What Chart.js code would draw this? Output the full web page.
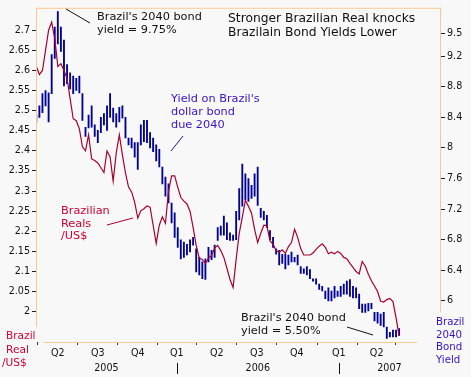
<!DOCTYPE html>
<html>
<head>
<meta charset="utf-8">
<script src="https://cdn.jsdelivr.net/npm/chart.js@4"></script>
<style>
  html, body { margin: 0; padding: 0; background: #f8f8f8; }
  #caixa { width: 471px; height: 377px; }
</style>
</head>
<body>
<div id="caixa"><canvas id="grafico" width="471" height="377"></canvas></div>
<script>
// weekly points, week 0 = mid Feb 2005
var realValues = [
    2.61, 2.59, 2.60, 2.65, 2.70, 2.72, 2.68, 2.61, 2.617, 2.60,
    2.58, 2.53, 2.48, 2.475, 2.455, 2.41, 2.40, 2.44, 2.38, 2.376,
    2.37, 2.358, 2.346, 2.40, 2.385, 2.325, 2.395, 2.44, 2.39, 2.345,
    2.31, 2.298, 2.272, 2.233, 2.251, 2.256, 2.263, 2.26, 2.215, 2.17,
    2.215, 2.236, 2.22, 2.30, 2.338, 2.338, 2.31, 2.284, 2.275, 2.268,
    2.25, 2.21, 2.165, 2.133, 2.13, 2.12, 2.133, 2.14, 2.158, 2.165,
    2.152, 2.135, 2.108, 2.08, 2.06, 2.13, 2.195, 2.235, 2.277, 2.262,
    2.245, 2.205, 2.172, 2.195, 2.215, 2.214, 2.176, 2.168, 2.152, 2.148,
    2.154, 2.145, 2.162, 2.172, 2.205, 2.185, 2.157, 2.141, 2.141, 2.141,
    2.146, 2.155, 2.163, 2.169, 2.16, 2.144, 2.148, 2.144, 2.15, 2.145,
    2.135, 2.132, 2.12, 2.11, 2.10, 2.094, 2.125, 2.113, 2.093, 2.077,
    2.064, 2.05, 2.026, 2.024, 2.03, 2.033, 2.025, 1.985, 1.94
];

var yieldHigh = [
    8.43, 8.55, 8.71, 8.75, 8.72, 9.22, 9.58, 9.78, 9.58, 9.41,
    9.09, 8.98, 8.94, 8.91, 8.94, 8.71, 8.27, 8.43, 8.55, 8.30,
    8.23, 8.40, 8.45, 8.55, 8.71, 8.52, 8.45, 8.53, 8.55, 8.40,
    8.13, 8.13, 8.07, 8.07, 8.30, 8.36, 8.36, 8.20, 8.13, 8.04,
    7.98, 7.75, 7.62, 7.53, 7.28, 7.15, 6.96, 6.80, 6.77, 6.74,
    6.80, 6.83, 6.68, 6.57, 6.51, 6.55, 6.70, 6.66, 6.73, 6.96,
    6.98, 7.11, 7.02, 6.89, 6.86, 7.17, 7.47, 7.79, 7.66, 7.60,
    7.51, 7.66, 7.75, 7.21, 7.17, 7.12, 6.92, 6.83, 6.68, 6.66,
    6.61, 6.61, 6.60, 6.64, 6.57, 6.60, 6.45, 6.42, 6.45, 6.41,
    6.29, 6.29, 6.22, 6.19, 6.13, 6.17, 6.13, 6.19, 6.13, 6.19,
    6.22, 6.26, 6.28, 6.19, 6.17, 6.09, 5.96, 5.96, 5.97, 5.97,
    5.85, 5.85, 5.83, 5.85, 5.66, 5.59, 5.62, 5.62, 5.64
];

var yieldLow = [
    8.34, 8.40, 8.46, 8.55, 8.34, 8.71, 9.17, 9.36, 9.26, 8.81,
    8.84, 8.77, 8.71, 8.75, 8.72, 8.36, 8.15, 8.26, 8.27, 8.15,
    8.07, 8.20, 8.30, 8.23, 8.40, 8.34, 8.27, 8.34, 8.39, 8.13,
    8.04, 8.00, 7.88, 7.72, 8.04, 8.08, 8.07, 8.00, 7.95, 7.83,
    7.75, 7.53, 7.37, 7.28, 7.02, 6.83, 6.70, 6.55, 6.57, 6.60,
    6.64, 6.73, 6.38, 6.34, 6.29, 6.28, 6.51, 6.54, 6.57, 6.79,
    6.86, 6.86, 6.80, 6.79, 6.79, 6.80, 7.06, 7.24, 7.32, 7.30,
    7.34, 7.37, 7.25, 7.09, 7.06, 6.96, 6.80, 6.70, 6.61, 6.47,
    6.49, 6.42, 6.47, 6.51, 6.51, 6.47, 6.36, 6.36, 6.34, 6.29,
    6.26, 6.22, 6.15, 6.13, 6.03, 6.00, 6.00, 6.04, 6.06, 6.06,
    6.09, 6.09, 6.06, 6.04, 6.04, 5.90, 5.85, 5.85, 5.87, 5.90,
    5.74, 5.71, 5.68, 5.66, 5.51, 5.53, 5.53, 5.53, 5.55
];

// quarter starts (in weeks) and their labels
var quarterWeeks = [7, 20, 33, 45.7, 58.7, 71.7, 84.7, 98.4, 110.7];
var quarterLabels = ['Q2', 'Q3', 'Q4', 'Q1', 'Q2', 'Q3', 'Q4', 'Q1', 'Q2'];
var yearLabels = ['2005', '2006', '2007'];

var realTicks = ['2', '2.05', '2.1', '2.15', '2.2', '2.25', '2.3', '2.35', '2.4', '2.45', '2.5', '2.55', '2.6', '2.65', '2.7'];
var yieldTicks = ['6', '6.4', '6.8', '7.2', '7.6', '8', '8.4', '8.8', '9.2', '9.5'];

var fonte = '"DejaVu Sans", Verdana, sans-serif';
var laranja = '#fcc78e';
var vermelho = '#a8002e';
var azul = '#000096';
var roxo = '#3812c8';

var dadosReal = [];
for (var i = 0; i < realValues.length; i++) {
    dadosReal.push({ x: i, y: realValues[i] });
}
var dadosYield = [];
for (var i = 0; i < yieldHigh.length; i++) {
    dadosYield.push({ x: i, y: [yieldLow[i], yieldHigh[i]] });
}

function linha(ctx, x1, y1, x2, y2, cor) {
    ctx.strokeStyle = cor;
    ctx.lineWidth = 1;
    ctx.beginPath();
    ctx.moveTo(x1, y1);
    ctx.lineTo(x2, y2);
    ctx.stroke();
}

function texto(ctx, linhas, x, y, passo, tamanho, cor) {
    ctx.font = tamanho + 'px ' + fonte;
    ctx.fillStyle = cor;
    ctx.textAlign = 'left';
    ctx.textBaseline = 'alphabetic';
    for (var i = 0; i < linhas.length; i++) {
        ctx.fillText(linhas[i], x, y + i * passo);
    }
}

var extras = {
    id: 'extras',
    afterDraw: function (chart) {
        var ctx = chart.ctx;
        var area = chart.chartArea;
        var sx = chart.scales.x;
        var sl = chart.scales.yL;
        var sr = chart.scales.yR;
        ctx.save();

        // axis lines, the way the original draws them
        linha(ctx, area.left, area.top + 0.5, area.right + 1, area.top + 0.5, laranja);
        linha(ctx, area.left + 0.5, area.top, area.left + 0.5, sl.getPixelForValue(1.962), laranja);
        linha(ctx, area.right + 0.5, area.top, area.right + 0.5, sr.getPixelForValue(5.85), laranja);
        linha(ctx, sx.getPixelForValue(2.4), area.bottom + 0.5, sx.getPixelForValue(123.8), area.bottom + 0.5, laranja);

        // years
        var jan06 = sx.getPixelForValue(quarterWeeks[3]);
        var jan07 = sx.getPixelForValue(quarterWeeks[7]);
        linha(ctx, Math.round(jan06) + 0.5, 363, Math.round(jan06) + 0.5, 374, '#111');
        linha(ctx, Math.round(jan07) + 0.5, 363, Math.round(jan07) + 0.5, 374, '#111');
        var centros = [(area.left + jan06) / 2, (jan06 + jan07) / 2, (jan07 + area.right) / 2];
        ctx.font = '9.6px ' + fonte;
        ctx.fillStyle = '#111';
        ctx.textAlign = 'center';
        ctx.textBaseline = 'alphabetic';
        for (var i = 0; i < yearLabels.length; i++) {
            ctx.fillText(yearLabels[i], centros[i], 371);
        }

        // title and notes
        texto(ctx, ['Stronger Brazilian Real knocks', 'Brazilain Bond Yields Lower'], 228, 22, 14, 12.3, '#111');
        texto(ctx, ["Brazil's 2040 bond", 'yield = 9.75%'], 97, 20, 13, 11.3, '#111');
        linha(ctx, 66, 9, 90, 23, '#111');
        texto(ctx, ["Yield on Brazil's", 'dollar bond', 'due 2040'], 171, 102, 12.8, 11.3, roxo);
        linha(ctx, 171, 151, 183, 136, '#1a1a90');
        texto(ctx, ['Brazilian', 'Reals', '/US$'], 61, 214, 12.7, 11.3, '#cc0033');
        linha(ctx, 107, 225, 133, 218, vermelho);
        texto(ctx, ["Brazil's 2040 bond", 'yield = 5.50%'], 241, 321, 13, 11.3, '#111');
        linha(ctx, 347, 327, 373, 335, '#111');

        // axis titles
        texto(ctx, ['Brazil', 'Real'], 6, 339, 13.5, 10.6, '#cc0033');
        texto(ctx, ['/US$'], 2, 366, 0, 10.6, '#cc0033');
        texto(ctx, ['Brazil', '2040', 'Bond', 'Yield'], 436, 325, 12.5, 10.2, roxo);

        ctx.restore();
    }
};

var dados = {
    datasets: [
        {
            type: 'line',
            label: 'Brazilian Real / US$',
            data: dadosReal,
            yAxisID: 'yL',
            borderColor: vermelho,
            borderWidth: 1.2,
            pointRadius: 0,
            tension: 0,
            order: 0
        },
        {
            type: 'bar',
            label: 'Brazil 2040 bond yield',
            data: dadosYield,
            yAxisID: 'yR',
            backgroundColor: azul,
            borderWidth: 0,
            barThickness: 1.2,
            order: 1
        }
    ]
};

var config = {
    type: 'bar',
    data: dados,
    plugins: [extras],
    options: {
        responsive: false,
        animation: false,
        devicePixelRatio: 1,
        layout: { padding: 0 },
        plugins: {
            legend: { display: false },
            title: { display: false },
            tooltip: { enabled: false }
        },
        scales: {
            x: {
                type: 'linear',
                position: 'bottom',
                min: -0.1,
                max: 131.3,
                offset: false,
                border: { display: false },
                grid: { drawOnChartArea: false, tickLength: 3, tickColor: '#333' },
                afterBuildTicks: function (scale) {
                    scale.ticks = quarterWeeks.map(function (w) { return { value: w }; });
                },
                ticks: {
                    autoSkip: false,
                    maxRotation: 0,
                    padding: 3,
                    color: '#111',
                    font: { family: fonte, size: 9.6 },
                    callback: function (value, index) { return quarterLabels[index]; }
                },
                afterFit: function (scale) { scale.height = 35; }
            },
            yL: {
                type: 'linear',
                position: 'left',
                min: 1.9246,
                max: 2.756,
                border: { display: false },
                grid: { drawOnChartArea: false, tickLength: 4, tickColor: '#222' },
                afterBuildTicks: function (scale) {
                    scale.ticks = realTicks.map(function (t) { return { value: parseFloat(t) }; });
                },
                ticks: {
                    padding: 2,
                    color: '#111',
                    font: { family: fonte, size: 9.6 },
                    callback: function (value, index) { return realTicks[index]; }
                },
                afterFit: function (scale) { scale.width = 36; }
            },
            yR: {
                type: 'linear',
                position: 'right',
                min: 5.4636,
                max: 9.8314,
                border: { display: false },
                grid: { drawOnChartArea: false, tickLength: 5, tickColor: '#222' },
                afterBuildTicks: function (scale) {
                    scale.ticks = yieldTicks.map(function (t) { return { value: parseFloat(t) }; });
                },
                ticks: {
                    padding: 2,
                    color: '#111',
                    font: { family: fonte, size: 9.6 },
                    callback: function (value, index) { return yieldTicks[index]; }
                },
                afterFit: function (scale) { scale.width = 31; }
            }
        }
    }
};

let myChart = new Chart(
    document.getElementById('grafico'),
    config
);
</script>
</body>
</html>
